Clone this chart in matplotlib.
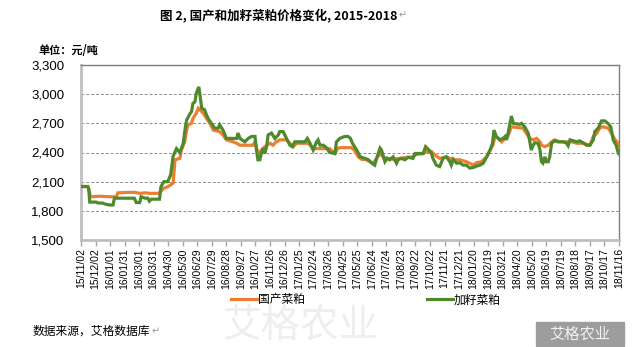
import matplotlib
matplotlib.use("Agg")
import matplotlib.pyplot as plt
import matplotlib.dates as mdates
import pandas as pd
from matplotlib.patches import Rectangle

plt.rcParams["font.family"] = ["Noto Sans CJK SC", "DejaVu Sans"]

# 国产菜粕 (domestic rapeseed meal), yuan/ton
domestic_dates = [
    "2015-11-02", "2015-11-16", "2015-11-22", "2015-12-11", "2016-01-01", "2016-01-14", "2016-01-17", "2016-02-07",
    "2016-02-21", "2016-03-02", "2016-03-13", "2016-03-23", "2016-04-09", "2016-04-13", "2016-04-20", "2016-04-30",
    "2016-05-10", "2016-05-14", "2016-05-24", "2016-05-27", "2016-06-03", "2016-06-07", "2016-06-10", "2016-06-17",
    "2016-06-20", "2016-06-27", "2016-07-01", "2016-07-04", "2016-07-11", "2016-07-18", "2016-07-25", "2016-08-01",
    "2016-08-14", "2016-08-21", "2016-08-28", "2016-09-11", "2016-09-18", "2016-09-25", "2016-10-22", "2016-10-26",
    "2016-11-02", "2016-11-08", "2016-11-19", "2016-11-26", "2016-12-02", "2016-12-09", "2016-12-16", "2016-12-30",
    "2017-01-06", "2017-01-13", "2017-01-20", "2017-02-12", "2017-02-20", "2017-02-26", "2017-03-29", "2017-04-02",
    "2017-04-09", "2017-04-15", "2017-04-23", "2017-05-13", "2017-05-20", "2017-05-27", "2017-06-03", "2017-06-13",
    "2017-06-20", "2017-06-27", "2017-07-04", "2017-07-11", "2017-07-17", "2017-07-24", "2017-08-07", "2017-08-21",
    "2017-09-04", "2017-09-17", "2017-09-24", "2017-10-08", "2017-10-15", "2017-10-25", "2017-11-01", "2017-11-11",
    "2017-11-25", "2017-12-09", "2017-12-23", "2018-01-05", "2018-01-12", "2018-01-19", "2018-01-26", "2018-02-05",
    "2018-02-16", "2018-02-23", "2018-03-01", "2018-03-05", "2018-03-12", "2018-03-19", "2018-03-26", "2018-04-01",
    "2018-04-08", "2018-04-15", "2018-05-02", "2018-05-09", "2018-05-16", "2018-05-23", "2018-05-30", "2018-06-06",
    "2018-06-09", "2018-06-16", "2018-06-23", "2018-06-30", "2018-07-06", "2018-07-17", "2018-08-10", "2018-08-21",
    "2018-09-03", "2018-09-17", "2018-09-24", "2018-10-01", "2018-10-07", "2018-10-14", "2018-10-25", "2018-11-01",
    "2018-11-08", "2018-11-15", "2018-11-16",
]
domestic_price = [
    2050, 2050, 1945, 1950, 1945, 1945, 1985, 1990,
    1990, 1980, 1985, 1980, 1980, 1990, 2030, 2050,
    2085, 2325, 2340, 2425, 2510, 2630, 2685, 2700,
    2750, 2805, 2855, 2840, 2805, 2750, 2700, 2630,
    2615, 2580, 2530, 2510, 2495, 2475, 2475, 2510,
    2375, 2425, 2475, 2495, 2475, 2510, 2530, 2530,
    2495, 2460, 2495, 2495, 2460, 2440, 2440, 2420,
    2390, 2445, 2450, 2450, 2420, 2355, 2330, 2325,
    2305, 2290, 2340, 2390, 2355, 2340, 2330, 2340,
    2350, 2355, 2380, 2390, 2410, 2410, 2375, 2340,
    2355, 2325, 2325, 2305, 2290, 2270, 2295, 2305,
    2355, 2425, 2475, 2565, 2545, 2510, 2545, 2570,
    2665, 2660, 2650, 2595, 2545, 2530, 2545, 2510,
    2475, 2460, 2475, 2510, 2530, 2510, 2510, 2495,
    2495, 2475, 2565, 2595, 2650, 2665, 2650, 2595,
    2530, 2495, 2470,
]

# 加籽菜粕 (Canadian-seed rapeseed meal), yuan/ton
canola_dates = [
    "2015-11-02", "2015-11-16", "2015-11-18", "2015-11-20", "2015-12-03", "2015-12-07", "2015-12-17", "2015-12-21",
    "2015-12-31", "2016-01-07", "2016-01-10", "2016-02-20", "2016-02-24", "2016-03-02", "2016-03-05", "2016-03-13",
    "2016-03-19", "2016-03-22", "2016-03-26", "2016-04-12", "2016-04-15", "2016-04-21", "2016-04-29", "2016-05-05",
    "2016-05-10", "2016-05-17", "2016-05-24", "2016-05-31", "2016-06-04", "2016-06-07", "2016-06-14", "2016-06-17",
    "2016-06-20", "2016-06-24", "2016-06-27", "2016-07-02", "2016-07-04", "2016-07-08", "2016-07-14", "2016-07-18",
    "2016-07-23", "2016-07-28", "2016-08-04", "2016-08-11", "2016-08-14", "2016-08-21", "2016-08-28", "2016-09-18",
    "2016-09-21", "2016-09-25", "2016-10-05", "2016-10-12", "2016-10-19", "2016-10-26", "2016-10-29", "2016-11-01",
    "2016-11-05", "2016-11-08", "2016-11-12", "2016-11-15", "2016-11-19", "2016-11-22", "2016-11-29", "2016-12-06",
    "2016-12-13", "2016-12-16", "2016-12-23", "2016-12-30", "2017-01-06", "2017-01-11", "2017-01-16", "2017-02-06",
    "2017-02-11", "2017-02-16", "2017-02-23", "2017-03-02", "2017-03-05", "2017-03-09", "2017-03-16", "2017-03-23",
    "2017-03-29", "2017-04-09", "2017-04-12", "2017-04-19", "2017-04-29", "2017-05-06", "2017-05-11", "2017-05-15",
    "2017-05-24", "2017-05-31", "2017-06-10", "2017-06-17", "2017-06-24", "2017-06-30", "2017-07-04", "2017-07-11",
    "2017-07-14", "2017-07-21", "2017-07-26", "2017-07-31", "2017-08-07", "2017-08-14", "2017-08-17", "2017-08-24",
    "2017-08-31", "2017-09-07", "2017-09-17", "2017-09-21", "2017-10-08", "2017-10-13", "2017-10-20", "2017-10-25",
    "2017-10-28", "2017-11-04", "2017-11-11", "2017-11-18", "2017-11-25", "2017-12-02", "2017-12-05", "2017-12-09",
    "2017-12-16", "2017-12-23", "2017-12-29", "2018-01-05", "2018-01-12", "2018-01-19", "2018-01-26", "2018-02-02",
    "2018-02-09", "2018-02-16", "2018-02-23", "2018-02-28", "2018-03-03", "2018-03-08", "2018-03-15", "2018-03-22",
    "2018-03-26", "2018-03-29", "2018-04-01", "2018-04-05", "2018-04-08", "2018-04-12", "2018-04-19", "2018-04-25",
    "2018-04-29", "2018-05-06", "2018-05-13", "2018-05-16", "2018-05-19", "2018-05-23", "2018-05-26", "2018-06-02",
    "2018-06-06", "2018-06-09", "2018-06-12", "2018-06-16", "2018-06-19", "2018-06-23", "2018-06-26", "2018-06-30",
    "2018-07-06", "2018-07-13", "2018-07-24", "2018-07-31", "2018-08-03", "2018-08-07", "2018-08-14", "2018-08-21",
    "2018-08-27", "2018-09-03", "2018-09-10", "2018-09-17", "2018-09-24", "2018-09-27", "2018-10-04", "2018-10-11",
    "2018-10-18", "2018-10-25", "2018-10-30", "2018-11-04", "2018-11-10", "2018-11-15", "2018-11-16",
]
canola_price = [
    2050, 2050, 2030, 1890, 1890, 1880, 1880, 1870,
    1860, 1860, 1930, 1930, 1885, 1885, 1945, 1930,
    1930, 1900, 1920, 1920, 2050, 2100, 2100, 2170,
    2360, 2440, 2400, 2495, 2650, 2735, 2800, 2820,
    2905, 2920, 3010, 3075, 3010, 2855, 2840, 2785,
    2735, 2700, 2650, 2650, 2685, 2630, 2545, 2545,
    2600, 2545, 2510, 2545, 2565, 2565, 2425, 2325,
    2325, 2390, 2445, 2390, 2460, 2580, 2600, 2545,
    2580, 2615, 2615, 2545, 2475, 2460, 2510, 2510,
    2545, 2500, 2425, 2510, 2530, 2475, 2475, 2445,
    2400, 2390, 2510, 2545, 2565, 2565, 2545, 2495,
    2425, 2355, 2340, 2325, 2290, 2270, 2340, 2445,
    2425, 2305, 2340, 2325, 2355, 2290, 2325, 2340,
    2325, 2350, 2340, 2390, 2390, 2460, 2425, 2390,
    2340, 2270, 2255, 2340, 2355, 2305, 2270, 2330,
    2290, 2295, 2270, 2270, 2240, 2245, 2260, 2270,
    2290, 2355, 2425, 2495, 2630, 2565, 2530, 2545,
    2565, 2530, 2595, 2700, 2775, 2700, 2695, 2690,
    2700, 2660, 2595, 2510, 2425, 2475, 2500, 2495,
    2425, 2305, 2290, 2355, 2305, 2305, 2355, 2495,
    2520, 2510, 2510, 2495, 2470, 2530, 2520, 2510,
    2520, 2500, 2475, 2475, 2530, 2615, 2650, 2725,
    2725, 2695, 2665, 2530, 2475, 2390, 2385,
]

series_names = ["国产菜粕", "加籽菜粕"]
y_ticks = [1500, 1800, 2100, 2400, 2700, 3000, 3300]

W, H = 635, 347
fig = plt.figure(figsize=(W / 100, H / 100), dpi=100)
ax = fig.add_axes([81 / W, 1 - 240 / H, (619 - 81) / W, (240 - 65) / H])

ax.plot(pd.to_datetime(domestic_dates), domestic_price, color="#ED7D31",
        lw=2.3, label=series_names[0], solid_joinstyle="miter", zorder=3)
ax.plot(pd.to_datetime(canola_dates), canola_price, color="#4E8A2C",
        lw=2.3, label=series_names[1], solid_joinstyle="miter", zorder=4)

start, end = pd.Timestamp("2015-11-02"), pd.Timestamp("2018-11-16")
ax.set_xlim(start, end)
ax.set_ylim(1500, 3300)
ax.set_yticks(y_ticks)
ax.set_yticklabels([f"{v:,}" for v in y_ticks], family="Liberation Sans", fontsize=9.5)
ax.set_xticks(pd.date_range(start, end, freq="30D"))
ax.xaxis.set_major_formatter(mdates.DateFormatter("%y/%m/%d"))
plt.setp(ax.get_xticklabels(), rotation=90, family="Liberation Sans", fontsize=7.5)
ax.tick_params(axis="x", length=4, width=1, color="#a6a6a6", pad=2)
ax.tick_params(axis="y", length=0, pad=12)

ax.grid(axis="y", linestyle=(0, (3, 2)), color="#8c8c8c", lw=0.7)
for side in ("left", "bottom"):
    ax.spines[side].set_color("#bfbfbf")
    ax.spines[side].set_linewidth(2)
for side in ("top", "right"):
    ax.spines[side].set_color("#7f7f7f")
    ax.spines[side].set_linewidth(1)

fig.legend(loc="center", bbox_to_anchor=(366 / W, 1 - 300 / H), ncol=2,
           frameon=False, fontsize=8.5, handlelength=2.2, columnspacing=10.3,
           handletextpad=0.1)

# faint background watermark
fig.text(300 / W, 1 - 326 / H, "艾格农业", fontsize=28, color="#eeeeee",
         ha="center", va="center", zorder=-5)
fig.patches.append(Rectangle((536 / W, 1 - 346 / H), 88 / W, 24 / H,
                             transform=fig.transFigure, color="#9d9d9d", zorder=1))
fig.text(580 / W, 1 - 334 / H, "艾格农业", fontsize=11, color="#f2f2f2",
         ha="center", va="center", zorder=2)

title = fig.text(160 / W, 1 - 15 / H, "图 2, 国产和加籽菜粕价格变化, 2015-2018",
                 fontsize=9, fontweight="bold", ha="left", va="center")
fig.text(38 / W, 1 - 50 / H, "单位：元/吨", fontsize=8, fontweight="bold",
         ha="left", va="center")
footer = fig.text(33 / W, 1 - 331 / H, "数据来源，艾格数据库", fontsize=8.5,
                  ha="left", va="center")

# paragraph marks after the title and footer
fig.canvas.draw()
r = fig.canvas.get_renderer()
for t in (title, footer):
    bb = t.get_window_extent(r)
    fig.text(bb.x1 / W + 1 / W, t.get_position()[1], "↵", fontsize=7,
             color="#9a9a9a", ha="left", va="center")

fig.savefig("out.png", dpi=100)
